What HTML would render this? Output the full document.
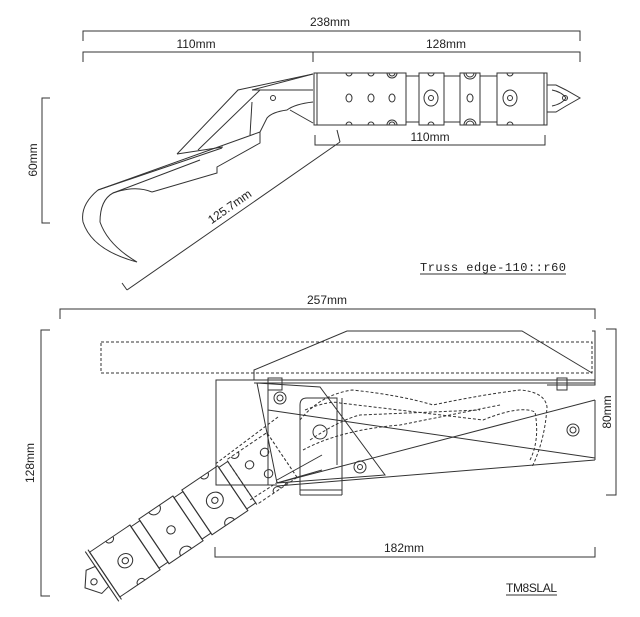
<!DOCTYPE html>
<html><head><meta charset="utf-8"><style>
html,body{margin:0;padding:0;background:#fff;}
svg{display:block;}
text{font-family:"Liberation Sans",sans-serif;fill:#222;font-size:12px;}
</style></head><body>
<svg width="640" height="617" viewBox="0 0 640 617" xmlns="http://www.w3.org/2000/svg">
<g stroke="#333" stroke-width="1" fill="none">
<polyline points="83,41 83,31 580,31 580,41"/>
<polyline points="83,62 83,52 580,52 580,62"/>
<line x1="313" y1="52" x2="313" y2="62"/>
<polyline points="315,135 315,145 545,145 545,135"/>
<polyline points="50,98 42,98 42,223 50,223"/>
<line x1="127" y1="290" x2="340" y2="142"/>
<line x1="122" y1="283" x2="127" y2="290"/>
<line x1="337" y1="130" x2="340" y2="142"/>
<line x1="420" y1="274" x2="566" y2="274"/>
<rect x="314" y="73" width="92" height="52"/>
<line x1="317" y1="73" x2="317" y2="125"/>
<rect x="406" y="76" width="13" height="46"/>
<rect x="419" y="73" width="25" height="52"/>
<rect x="444" y="76" width="16" height="46"/>
<rect x="460" y="73" width="20" height="52"/>
<rect x="480" y="76" width="17" height="46"/>
<rect x="497" y="73" width="50" height="52"/>
<line x1="544" y1="73" x2="544" y2="125"/>
<path d="M547,85 L556,85 L566,90 L580,98 L566,106 L556,112 L547,112 Z"/>
<path d="M552,90 Q562,92 566,98 Q562,104 552,106"/>
<circle cx="565" cy="98" r="2.5"/>
<ellipse cx="349" cy="98" rx="3" ry="4"/><ellipse cx="371" cy="98" rx="3" ry="4"/><ellipse cx="392" cy="98" rx="3" ry="4"/>
<path d="M346,73 A3,3 0 0 0 352,73 M368,73 A3,3 0 0 0 374,73 M387,73 A5,5 0 0 0 397,73 M389,73 A3,3 0 0 0 395,73"/>
<path d="M346,125 A3,3 0 0 1 352,125 M368,125 A3,3 0 0 1 374,125 M387,125 A5,5 0 0 1 397,125 M389,125 A3,3 0 0 1 395,125"/>
<ellipse cx="431" cy="98" rx="7" ry="8"/><circle cx="431" cy="98" r="2.5"/>
<path d="M428,73 A3,3 0 0 0 434,73 M428,125 A3,3 0 0 1 434,125"/>
<ellipse cx="470" cy="98" rx="3" ry="4"/>
<path d="M464,73 A6,6 0 0 0 476,73 M466,73 A4,4 0 0 0 474,73 M464,125 A6,6 0 0 1 476,125 M466,125 A4,4 0 0 1 474,125"/>
<ellipse cx="510" cy="98" rx="7" ry="8"/><circle cx="510" cy="98" r="2.5"/>
<path d="M507,73 A3,3 0 0 0 513,73 M507,125 A3,3 0 0 1 513,125"/>
<polyline points="313,74 238,90 177,154"/>
<polyline points="313,74 252,90 313,90"/>
<polyline points="260,90 198,150"/>
<line x1="252" y1="102" x2="250" y2="135"/>
<circle cx="273" cy="98" r="2.5"/>
<path d="M313,102 Q295,104 287,110 Q272,112 267,118 L260,132 L260,143 L217,167 L217,173 L152,192"/>
<polyline points="290,110 313,123"/>
<line x1="177" y1="154" x2="223" y2="147"/>
<line x1="98" y1="190" x2="260" y2="132"/>
<line x1="98" y1="190" x2="222" y2="148"/>
<line x1="113" y1="193" x2="200" y2="160"/>
<path d="M98,190 Q80,205 83,222 Q92,250 137,262 Q108,245 100,222 Q100,200 113,193 Q135,185 152,192"/>
<polyline points="60,319 60,309 595,309 595,319"/>
<polyline points="50,330 41,330 41,596 50,596"/>
<polyline points="606,329 616,329 616,495 606,495"/>
<polyline points="215,547 215,557 595,557 595,547"/>
<line x1="506" y1="595" x2="557" y2="595"/>
<rect x="101" y="342" width="491" height="31" stroke-dasharray="3,2"/>
<polyline points="254,380 254,370 347,331 522,331 592,373"/>
<line x1="254" y1="380" x2="595" y2="380"/>
<line x1="254" y1="383" x2="595" y2="383"/>
<polyline points="592,331 595,331 595,385 547,385"/>
<rect x="268" y="378" width="14" height="12"/>
<rect x="557" y="378" width="10" height="12"/>
<polyline points="268,380 216,380 216,485 277,485"/>
<line x1="268" y1="380" x2="268" y2="485"/>
<polygon points="257,383 320,387 385,475 277,483"/>
<line x1="268" y1="410" x2="595" y2="458"/>
<line x1="277" y1="483" x2="595" y2="400"/>
<line x1="277" y1="486" x2="595" y2="460"/>
<line x1="595" y1="400" x2="595" y2="460"/>
<path d="M300,495 L300,405 Q300,398 307,398 L337,398 L337,465 M342,495 L300,495 M300,490 L342,490 M342,398 L342,495"/>
<line x1="277" y1="483" x2="322" y2="470"/>
<line x1="277" y1="480" x2="322" y2="455"/>
<circle cx="280" cy="398" r="6"/><circle cx="280" cy="398" r="3"/>
<circle cx="320" cy="432" r="7"/>
<circle cx="360" cy="467" r="6"/><circle cx="360" cy="467" r="2.5"/>
<circle cx="573" cy="430" r="6"/><circle cx="573" cy="430" r="3"/>
<g stroke-dasharray="3,2">
<path d="M300,420 Q320,395 352,390 Q400,395 433,405 Q480,395 520,390 Q545,392 547,407 Q545,440 532,467"/>
<path d="M305,410 Q330,400 340,403 L483,420 Q520,405 535,412 Q540,440 530,460"/>
<path d="M310,440 Q340,420 360,415 L480,410"/>
<path d="M303,450 Q340,430 400,425 L500,405"/>
<line x1="278" y1="417" x2="214" y2="465"/>
<line x1="278" y1="482" x2="250" y2="500"/>
</g>
<g transform="translate(282,455) rotate(146) scale(1.08,1)">
<rect x="0" y="-27" width="45" height="54" stroke-dasharray="3,2"/>
<rect x="45" y="-25" width="10" height="50"/>
<rect x="55" y="-27" width="40" height="54"/>
<rect x="95" y="-25" width="10" height="50"/>
<rect x="105" y="-27" width="38" height="54"/>
<rect x="143" y="-25" width="10" height="50"/>
<rect x="153" y="-27" width="45" height="54"/>
<line x1="198" y1="-30" x2="198" y2="30"/><line x1="201" y1="-30" x2="201" y2="30"/>
<path d="M201,-12 L210,-14 L220,0 L210,14 L201,12 Z"/>
<circle cx="210" cy="0" r="3"/>
<circle cx="20" cy="-8" r="4"/><circle cx="30" cy="10" r="4"/><circle cx="12" cy="12" r="4"/>
<path d="M18,-27 A4,4 0 0 0 26,-27 M32,27 A4,4 0 0 1 40,27 M8,-27 A4,4 0 0 0 14,-27"/>
<circle cx="75" cy="0" r="8"/><circle cx="75" cy="0" r="3"/>
<path d="M70,-27 A5,5 0 0 0 80,-27 M66,27 A4,4 0 0 1 74,27"/>
<circle cx="124" cy="0" r="4"/>
<path d="M118,-27 A6,6 0 0 0 130,-27 M120,27 A6,6 0 0 1 132,27"/>
<circle cx="175" cy="0" r="7"/><circle cx="175" cy="0" r="3"/>
<path d="M170,-27 A4,4 0 0 0 178,-27 M172,27 A4,4 0 0 1 180,27"/>
</g>
</g>
<g>
<text x="330" y="26" text-anchor="middle">238mm</text>
<text x="196" y="48" text-anchor="middle">110mm</text>
<text x="446" y="48" text-anchor="middle">128mm</text>
<text x="430" y="141" text-anchor="middle">110mm</text>
<text transform="translate(37,160) rotate(-90)" text-anchor="middle">60mm</text>
<text transform="translate(232,210) rotate(-35)" text-anchor="middle">125.7mm</text>
<text x="420" y="271" textLength="146" style="font-family:'Liberation Mono',monospace;font-size:12px">Truss edge-110::r60</text>
<text x="327" y="304" text-anchor="middle">257mm</text>
<text transform="translate(34,463) rotate(-90)" text-anchor="middle">128mm</text>
<text transform="translate(611,412) rotate(-90)" text-anchor="middle">80mm</text>
<text x="404" y="552" text-anchor="middle">182mm</text>
<text x="506" y="592" textLength="51">TM8SLAL</text>
</g>
</svg>
</body></html>
